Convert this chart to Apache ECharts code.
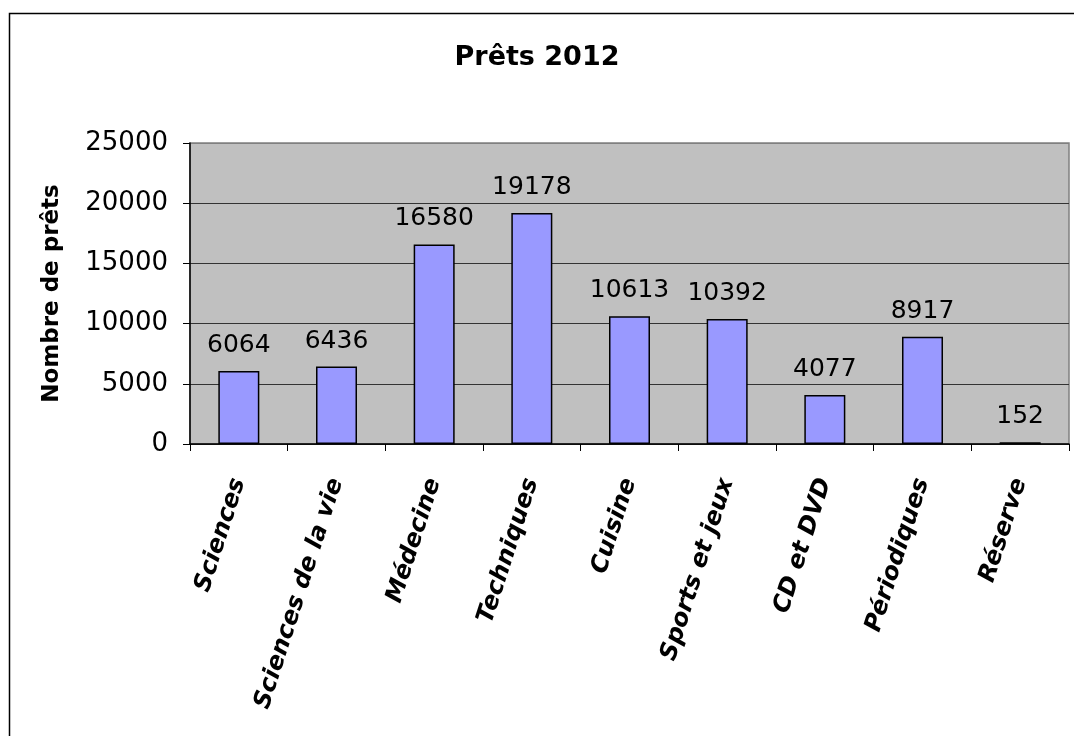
<!DOCTYPE html>
<html>
<head>
<meta charset="utf-8">
<script src="https://cdn.jsdelivr.net/npm/echarts@6/dist/echarts.min.js"></script>
<style>
  html, body { margin: 0; padding: 0; background: #fff; }
  #chart { width: 1074px; height: 736px; }
</style>
</head>
<body>
<div id="chart"></div>
<script>
  // catégories et valeurs
  const categories = ['Sciences', 'Sciences de la vie', 'Médecine', 'Techniques', 'Cuisine',
    'Sports et jeux', 'CD et DVD', 'Périodiques', 'Réserve'];
  const prets = [6064, 6436, 16580, 19178, 10613, 10392, 4077, 8917, 152];
  const yTicks = [0, 5000, 10000, 15000, 20000, 25000];

  const chart = echarts.init(document.getElementById('chart'));
  const font = '"DejaVu Sans", sans-serif';

  const option = {
    animation: false,
    backgroundColor: '#fff',
    textStyle: { fontFamily: font },
    title: {
      text: 'Prêts 2012',
      left: 'center',
      top: 39,
      textStyle: { fontFamily: font, fontSize: 27, fontWeight: 'bold', color: '#000' }
    },
    graphic: [{
      type: 'rect',
      z: -10,
      shape: { x: 9.5, y: 13.5, width: 1100, height: 800 },
      style: { fill: 'none', stroke: '#000', lineWidth: 1.5 }
    }],
    grid: {
      left: 190,
      top: 143,
      right: 5,
      bottom: 292,
      show: true,
      backgroundColor: '#C0C0C0',
      borderColor: '#808080',
      borderWidth: 1.5
    },
    xAxis: {
      type: 'category',
      data: categories,
      axisLine: { lineStyle: { color: '#000', width: 1.5 } },
      axisTick: { show: true, alignWithLabel: false, length: 7, lineStyle: { color: '#000', width: 1 } },
      axisLabel: {
        interval: 0,
        rotate: 72,
        margin: 35,
        color: '#000',
        fontFamily: font,
        fontSize: 24,
        fontWeight: 'bold',
        fontStyle: 'italic'
      }
    },
    yAxis: {
      type: 'value',
      min: yTicks[0],
      max: yTicks[yTicks.length - 1],
      interval: 5000,
      name: 'Nombre de prêts',
      nameLocation: 'middle',
      nameGap: 126,
      nameRotate: 90,
      nameTextStyle: { fontFamily: font, fontSize: 23, fontWeight: 'bold', color: '#000' },
      axisLine: { show: true, lineStyle: { color: '#000', width: 1.5 } },
      axisTick: { show: true, length: 7, lineStyle: { color: '#000', width: 1 } },
      axisLabel: {
        margin: 22,
        color: '#000',
        fontFamily: font,
        fontSize: 26,
        formatter: v => String(v)
      },
      splitLine: {
        show: true,
        lineStyle: { color: ['#333', '#333', '#333', '#333', '#333', '#808080'], width: 1.2 }
      }
    },
    series: [{
      type: 'bar',
      data: prets,
      barWidth: 41,
      itemStyle: { color: '#9999FF', borderColor: '#000', borderWidth: 1.5 },
      label: {
        show: true,
        position: 'top',
        distance: 13,
        color: '#000',
        fontFamily: font,
        fontSize: 25
      }
    }]
  };

  chart.setOption(option);
</script>
</body>
</html>
